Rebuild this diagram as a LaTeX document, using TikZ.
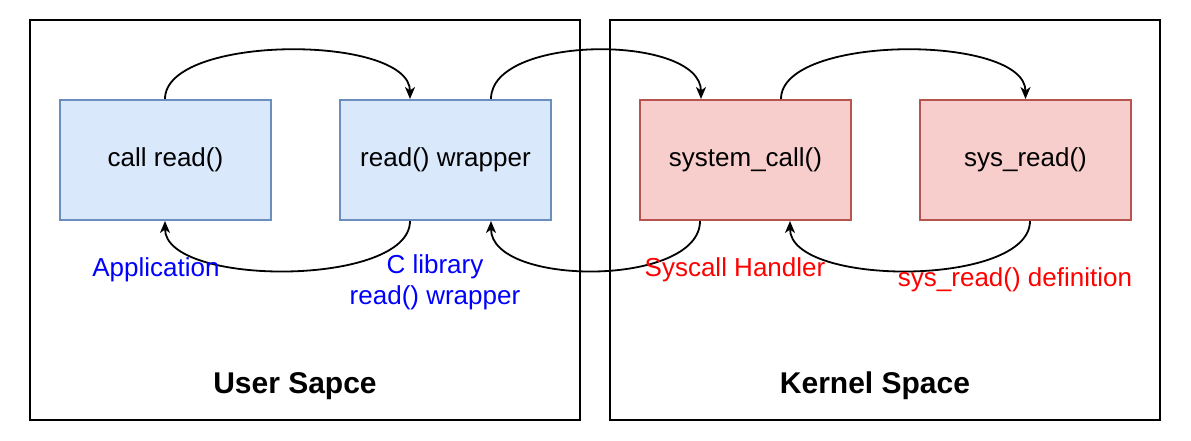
\documentclass[tikz,border=0pt]{standalone}
\usepackage{fontspec}
\setmainfont{Liberation Sans}
\usetikzlibrary{arrows.meta}
\definecolor{bluefill}{HTML}{DAE8FC}
\definecolor{bluestroke}{HTML}{6C8EBF}
\definecolor{redfill}{HTML}{F8CECC}
\definecolor{redstroke}{HTML}{B85450}
\definecolor{bluetext}{HTML}{0000FF}
\definecolor{redtext}{HTML}{FF0000}
\begin{document}
\begin{tikzpicture}[x=1pt,y=-1pt,
  region/.style={draw=black, line width=2.8pt, minimum width=550pt, minimum height=400pt, inner sep=0pt},
  regionlabel/.style={font=\fontsize{30}{34}\selectfont\bfseries, inner sep=0pt},
  fnbox/.style={line width=2pt, minimum width=211pt, minimum height=120pt, inner sep=0pt, font=\fontsize{26}{30}\selectfont},
  ubox/.style={fnbox, draw=bluestroke, fill=bluefill},
  kbox/.style={fnbox, draw=redstroke, fill=redfill},
  conn/.style={draw=black, line width=1.8pt, -{Stealth[length=12pt,width=10pt,inset=3.5pt]}},
  lab/.style={font=\fontsize{26}{31}\selectfont, inner sep=1pt, align=center}
]
\useasboundingbox (0,0) rectangle (1191,441);

\node[region] (user) at (305,220) {};
\node[region] (kern) at (885,220) {};
\node[regionlabel] (ulab) at (295,386) {User Sapce};
\node[regionlabel] (klab) at (875,386) {Kernel Space};

\node[ubox] (call) at (165.5,160) {call read()};
\node[ubox] (wrap) at (445.5,160) {read() wrapper};
\node[kbox] (sysc) at (745.5,160) {system\_call()};
\node[kbox] (sysr) at (1025.5,160) {sys\_read()};

% forward calls (top)
\draw[conn] ([xshift=-0.5pt]call.north) .. controls +(0,-65) and +(0,-65) .. ([xshift=-35.5pt]wrap.north);
\draw[conn] ([xshift=45.5pt]wrap.north) .. controls +(0,-65) and +(0,-65) .. ([xshift=-44.5pt]sysc.north);
\draw[conn] ([xshift=35.5pt]sysc.north) .. controls +(0,-65) and +(0,-65) .. (sysr.north);

% returns (bottom)
\draw[conn] ([xshift=-35.5pt]wrap.south) .. controls +(0,66) and +(0,66) .. ([xshift=-0.5pt]call.south);
\draw[conn] ([xshift=-45.5pt]sysc.south) .. controls +(0,66) and +(0,66) .. ([xshift=45.5pt]wrap.south);
\draw[conn] ([xshift=4.5pt]sysr.south) .. controls +(0,66) and +(0,66) .. ([xshift=44.5pt]sysc.south);

\node[lab, text=bluetext] (app) at (156,270) {Application};
\node[lab, text=bluetext] (clib) at (435,282) {C library\\read() wrapper};
\node[lab, text=redtext] (shand) at (735,270) {Syscall Handler};
\node[lab, text=redtext] (sdef) at (1015,280) {sys\_read() definition};
\end{tikzpicture}
\end{document}
